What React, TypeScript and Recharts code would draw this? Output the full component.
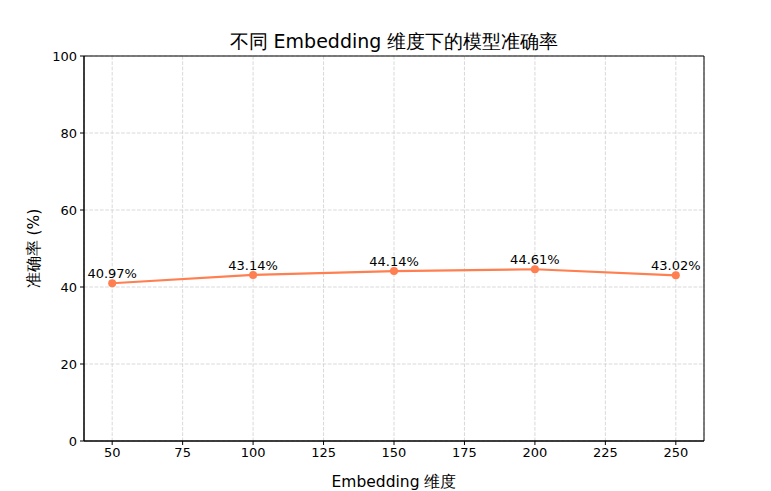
import React from "react";
import {
  LineChart,
  Line,
  XAxis,
  YAxis,
  CartesianGrid,
  LabelList,
  ReferenceArea,
} from "recharts";

const dims = [50, 100, 150, 200, 250];
const accuracy = [40.97, 43.14, 44.14, 44.61, 43.02];
const xTicks = [50, 75, 100, 125, 150, 175, 200, 225, 250];
const yTicks = [0, 20, 40, 60, 80, 100];
const xDomain = [40, 260];
const yDomain = [0, 100];

const title = "不同 Embedding 维度下的模型准确率";
const xLabel = "Embedding 维度";
const yLabel = "准确率 (%)";

const data = dims.map((d, i) => ({ dim: d, acc: accuracy[i] }));

const FONT = "DejaVu Sans, sans-serif";
const W = 771;
const H = 491;

export default function App() {
  const tickStyle = { fill: "#000", fontSize: 13, fontFamily: FONT };
  return (
    <div style={{ position: "absolute", left: 0, top: 0, width: W, height: H, background: "#fff", fontFamily: FONT }}>
      <LineChart
        width={W}
        height={H}
        data={data}
        margin={{ top: 56, right: 67, bottom: 0, left: 0 }}
      >
        <CartesianGrid stroke="#cfcfcf" strokeDasharray="3.7 1.6" strokeWidth={0.8} />
        <XAxis
          dataKey="dim"
          type="number"
          domain={xDomain}
          ticks={xTicks}
          height={50}
          stroke="#000"
          tickSize={4}
          tickMargin={3}
          tick={tickStyle}
          tickLine={{ stroke: "#000" }}
          axisLine={{ stroke: "#000", strokeWidth: 1 }}
          label={{ value: xLabel, position: "insideBottom", offset: 4, fill: "#000", fontSize: 15.5, fontFamily: FONT }}
        />
        <YAxis
          type="number"
          domain={yDomain}
          ticks={yTicks}
          width={84}
          stroke="#000"
          tickSize={4}
          tickMargin={3}
          tick={tickStyle}
          tickLine={{ stroke: "#000" }}
          axisLine={{ stroke: "#000", strokeWidth: 1 }}
          label={{ value: yLabel, angle: -90, position: "insideLeft", offset: 33, fill: "#000", fontSize: 15.5, fontFamily: FONT, style: { textAnchor: "middle" } }}
        />
        <ReferenceArea
          x1={xDomain[0]}
          x2={xDomain[1]}
          y1={yDomain[0]}
          y2={yDomain[1]}
          fill="none"
          fillOpacity={0}
          stroke="#000"
          strokeWidth={1}
          ifOverflow="visible"
        />
        <Line
          type="linear"
          dataKey="acc"
          stroke="#ff7f50"
          strokeWidth={2.2}
          dot={{ r: 4, fill: "#ff7f50", stroke: "#ff7f50", strokeWidth: 0 }}
          activeDot={false}
          isAnimationActive={false}
        >
          <LabelList
            dataKey="acc"
            position="top"
            offset={5}
            formatter={(v: number) => `${v.toFixed(2)}%`}
            style={{ fill: "#000", fontSize: 13, fontFamily: FONT }}
          />
        </Line>
        <text x={394} y={48} textAnchor="middle" fontSize={19} fontFamily={FONT} fill="#000">
          {title}
        </text>
      </LineChart>
    </div>
  );
}
